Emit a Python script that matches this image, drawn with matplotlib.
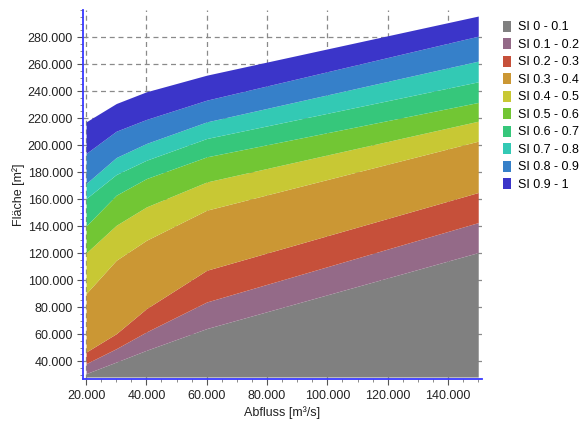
import numpy as np
import matplotlib
matplotlib.use('Agg')
import matplotlib.pyplot as plt
from matplotlib.patches import Patch
from matplotlib.ticker import FuncFormatter, MultipleLocator

#---------------------------------datos--------------------------------------------------------------
abfluss = [20000, 30000, 40000, 60000, 150000]

# limite superior de cada clase SI (valores acumulados en m2)
si_00_01 = [30700, 39300, 48000, 64100, 120400]
si_01_02 = [38100, 49200, 61600, 83800, 142600]
si_02_03 = [46700, 60300, 78900, 107300, 164900]
si_03_04 = [90000, 114700, 129500, 151800, 202900]
si_04_05 = [120100, 140600, 154200, 172700, 217700]
si_05_06 = [140100, 162900, 175200, 191300, 231600]
si_06_07 = [160400, 178200, 188800, 204900, 246900]
si_07_08 = [171500, 190800, 201200, 217200, 262200]
si_08_09 = [193800, 210300, 219000, 233300, 280700]
si_09_10 = [217200, 230800, 239500, 251800, 295600]

basis = 28200  # borde inferior de la superficie gris

etiquetas = ['SI 0 - 0.1', 'SI 0.1 - 0.2', 'SI 0.2 - 0.3', 'SI 0.3 - 0.4', 'SI 0.4 - 0.5',
             'SI 0.5 - 0.6', 'SI 0.6 - 0.7', 'SI 0.7 - 0.8', 'SI 0.8 - 0.9', 'SI 0.9 - 1']
colores = ['#808080', '#946a88', '#c6503a', '#cb9734', '#c8c834',
           '#72c634', '#36c77b', '#33c9b4', '#3680c9', '#3b35c9']

clases = [si_00_01, si_01_02, si_02_03, si_03_04, si_04_05,
          si_05_06, si_06_07, si_07_08, si_08_09, si_09_10]

#---------------------------------grafico-------------------------------------------
plt.rcParams['font.family'] = ['Liberation Sans', 'DejaVu Sans']
plt.rcParams['font.size'] = 9

fig = plt.figure(figsize=(5.83, 4.21), dpi=100)
ax = fig.add_axes([0.143, 0.099, 0.683, 0.877])

# bandas apiladas
abajo = [basis] * len(abfluss)
for arriba, color in zip(clases, colores):
    ax.fill_between(abfluss, abajo, arriba, color=color, linewidth=0, zorder=2)
    abajo = arriba

# ejes
ax.set_xlim(19100, 151100)
ax.set_ylim(26500, 300000)
ax.xaxis.set_major_locator(MultipleLocator(20000))
ax.xaxis.set_minor_locator(MultipleLocator(5000))
ax.yaxis.set_major_locator(MultipleLocator(20000))
ax.yaxis.set_minor_locator(MultipleLocator(5000))

formato = FuncFormatter(lambda v, pos: f'{v:,.0f}'.replace(',', '.'))
ax.xaxis.set_major_formatter(formato)
ax.yaxis.set_major_formatter(formato)
ax.set_xticks([v for v in range(20000, 150001, 20000)])
ax.set_yticks([v for v in range(40000, 280001, 20000)])

ax.tick_params(which='major', length=4, color='#555555', labelcolor='#222222', labelsize=9)
ax.tick_params(which='minor', length=2.5, color='#777777')

ax.grid(True, which='major', color='#8a8a8a', linestyle=(0, (4, 3)), linewidth=0.9, zorder=0)
ax.set_axisbelow(True)

for lado in ['top', 'right']:
    ax.spines[lado].set_visible(False)
for lado in ['left', 'bottom']:
    ax.spines[lado].set_color('#3838ff')
    ax.spines[lado].set_linewidth(1.3)

ax.set_xlabel('Abfluss [m³/s]', fontsize=9, color='#222222', labelpad=3)
ax.set_ylabel('Fläche [m²]', fontsize=9, color='#222222', labelpad=2)

# leyenda
handles = [Patch(facecolor=c, edgecolor='none') for c in colores]
fig.legend(handles, etiquetas, loc='upper left', bbox_to_anchor=(0.855, 0.963),
           frameon=False, fontsize=9, handlelength=0.6, handleheight=1.0,
           handletextpad=0.6, labelspacing=0.37, borderaxespad=0)

fig.savefig('out.png', dpi=100)
